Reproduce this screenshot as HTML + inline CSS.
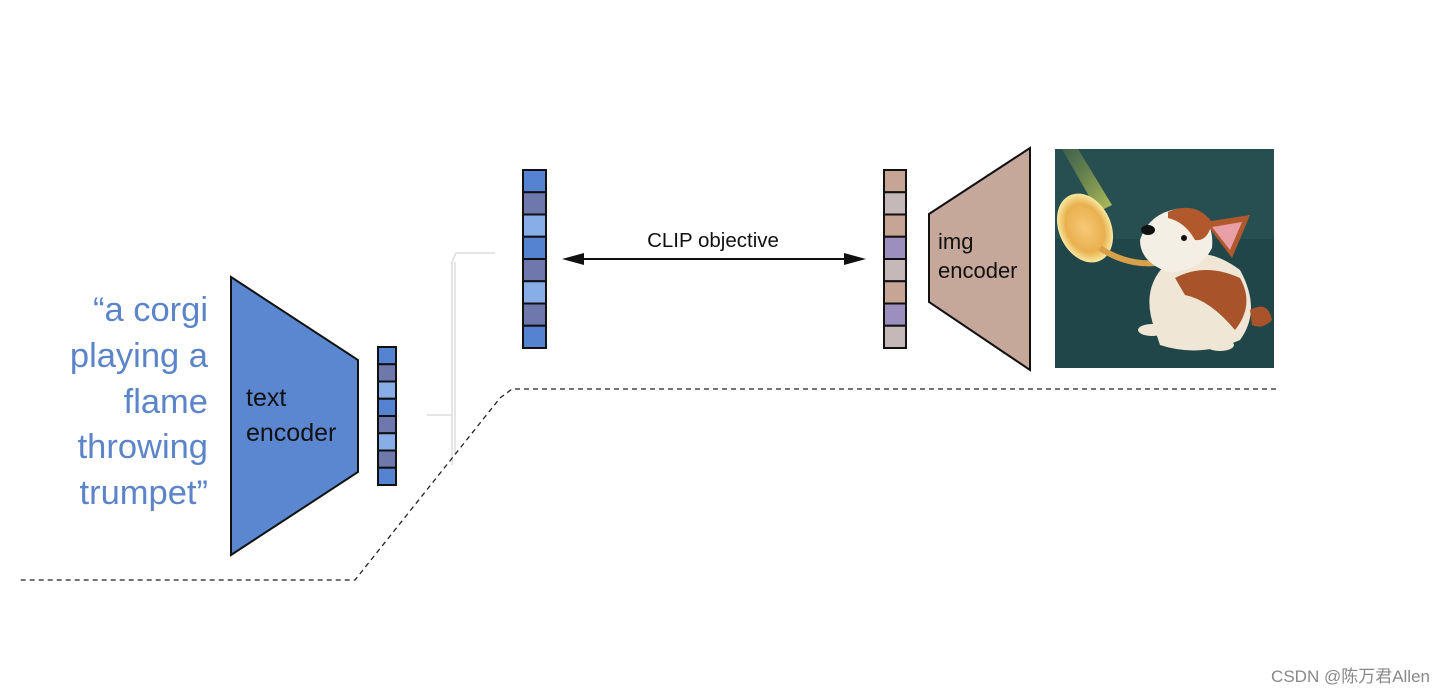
<!DOCTYPE html>
<html><head><meta charset="utf-8"><style>
html,body{margin:0;padding:0;background:#fff;width:1444px;height:694px;overflow:hidden}
svg{display:block}
</style></head><body>
<svg width="1444" height="694" viewBox="0 0 1444 694" xmlns="http://www.w3.org/2000/svg">
<defs>
<radialGradient id="horn" cx="0.5" cy="0.5" r="0.5"><stop offset="0" stop-color="#f7c977"/><stop offset="0.7" stop-color="#e9b04f"/><stop offset="1" stop-color="#f9e9a0"/></radialGradient>
<linearGradient id="beam" x1="0" y1="0" x2="1" y2="1"><stop offset="0" stop-color="#9aa83a" stop-opacity="0.2"/><stop offset="1" stop-color="#d8e060" stop-opacity="0.8"/></linearGradient>
</defs>
<g font-family="Liberation Sans, sans-serif" font-size="34.5" fill="#5b84c9" text-anchor="end">
<text x="208" y="321">“a corgi</text>
<text x="208" y="367">playing a</text>
<text x="208" y="413">flame</text>
<text x="208" y="458">throwing</text>
<text x="208" y="504">trumpet”</text>
</g>
<polygon points="231,277 358,360 358,472 231,555" fill="#5b87d1" stroke="#111" stroke-width="2"/>
<g font-family="Liberation Sans, sans-serif" font-size="25" fill="#111">
<text x="246" y="406">text</text>
<text x="246" y="441">encoder</text>
</g>
<g stroke="#111" stroke-width="2">
<rect x="378" y="347" width="18" height="17.25" fill="#5583d1"/>
<rect x="378" y="364.25" width="18" height="17.25" fill="#6f78ac"/>
<rect x="378" y="381.5" width="18" height="17.25" fill="#87aee6"/>
<rect x="378" y="398.75" width="18" height="17.25" fill="#5583d1"/>
<rect x="378" y="416" width="18" height="17.25" fill="#6f78ac"/>
<rect x="378" y="433.25" width="18" height="17.25" fill="#87aee6"/>
<rect x="378" y="450.5" width="18" height="17.25" fill="#6f78ac"/>
<rect x="378" y="467.75" width="18" height="17.25" fill="#5583d1"/>
</g>
<g stroke="#ddd" stroke-width="1.5" fill="none">
<path d="M427,415 H452 M452,465 V262 L456,253 H495"/>
<path d="M455,455 V262"/>
</g>
<g stroke="#111" stroke-width="2">
<rect x="523" y="170" width="23" height="22.25" fill="#5583d1"/>
<rect x="523" y="192.25" width="23" height="22.25" fill="#6f78ac"/>
<rect x="523" y="214.5" width="23" height="22.25" fill="#87aee6"/>
<rect x="523" y="236.75" width="23" height="22.25" fill="#5583d1"/>
<rect x="523" y="259" width="23" height="22.25" fill="#6f78ac"/>
<rect x="523" y="281.25" width="23" height="22.25" fill="#87aee6"/>
<rect x="523" y="303.5" width="23" height="22.25" fill="#6f78ac"/>
<rect x="523" y="325.75" width="23" height="22.25" fill="#5583d1"/>
</g>
<line x1="575" y1="259" x2="853" y2="259" stroke="#111" stroke-width="2"/>
<polygon points="562,259 584,253 584,265" fill="#111"/>
<polygon points="866,259 844,253 844,265" fill="#111"/>
<text x="713" y="247" font-family="Liberation Sans, sans-serif" font-size="20.5" fill="#111" text-anchor="middle">CLIP objective</text>
<g stroke="#111" stroke-width="2">
<rect x="884" y="170" width="22" height="22.25" fill="#c7a595"/>
<rect x="884" y="192.25" width="22" height="22.25" fill="#c4b8b8"/>
<rect x="884" y="214.5" width="22" height="22.25" fill="#c7a595"/>
<rect x="884" y="236.75" width="22" height="22.25" fill="#9c8fbe"/>
<rect x="884" y="259" width="22" height="22.25" fill="#c4b8b8"/>
<rect x="884" y="281.25" width="22" height="22.25" fill="#c7a595"/>
<rect x="884" y="303.5" width="22" height="22.25" fill="#9c8fbe"/>
<rect x="884" y="325.75" width="22" height="22.25" fill="#c4b8b8"/>
</g>
<polygon points="929,214 1030,148 1030,370 929,302" fill="#c6a89b" stroke="#111" stroke-width="2"/>
<g font-family="Liberation Sans, sans-serif" font-size="22" fill="#111">
<text x="938" y="249">img</text>
<text x="938" y="278">encoder</text>
</g>
<rect x="1055" y="149" width="219" height="219" fill="#21464a"/>
<rect x="1055" y="149" width="219" height="90" fill="#2b5559" opacity="0.6"/>
<polygon points="1062,149 1078,149 1112,205 1098,212" fill="url(#beam)"/>
<ellipse cx="1085" cy="228" rx="26" ry="36" fill="url(#horn)" transform="rotate(-25 1085 228)"/>
<path d="M1100,248 Q1130,268 1165,262" stroke="#d9a04a" stroke-width="6" fill="none"/>
<path d="M1155,330 Q1140,290 1165,265 Q1200,240 1240,270 Q1262,310 1240,340 Q1200,358 1160,345 Z" fill="#efe6d6"/>
<path d="M1175,278 Q1205,262 1240,278 Q1255,305 1235,330 Q1210,300 1185,295 Z" fill="#a9532b"/>
<path d="M1140,240 Q1150,210 1185,208 Q1215,215 1212,248 Q1200,272 1168,272 Q1140,262 1140,240 Z" fill="#f4efe4"/>
<path d="M1168,212 Q1195,200 1212,222 Q1208,242 1195,240 Q1185,222 1168,218 Z" fill="#b1592d"/>
<path d="M1205,222 L1250,215 L1232,258 Z" fill="#b1592d"/>
<path d="M1212,227 L1242,222 L1230,250 Z" fill="#e8a0a6"/>
<ellipse cx="1148" cy="230" rx="7" ry="5" fill="#111"/>
<circle cx="1184" cy="238" r="3" fill="#111"/>
<path d="M1250,310 Q1268,300 1272,320 Q1262,330 1252,325 Z" fill="#a9532b"/>
<ellipse cx="1152" cy="330" rx="14" ry="6" fill="#efe6d6"/>
<ellipse cx="1220" cy="345" rx="14" ry="6" fill="#efe6d6"/>
<g stroke="#222" stroke-width="1.3" stroke-dasharray="5,4" fill="none">
<path d="M1276,389 H512 L500,398 L355,580 H20"/>
</g>
<text x="1430" y="682" font-family="Liberation Sans, 'Noto Sans CJK SC', sans-serif" font-size="17" fill="#888" text-anchor="end">CSDN @陈万君Allen</text>
</svg>
</body></html>
